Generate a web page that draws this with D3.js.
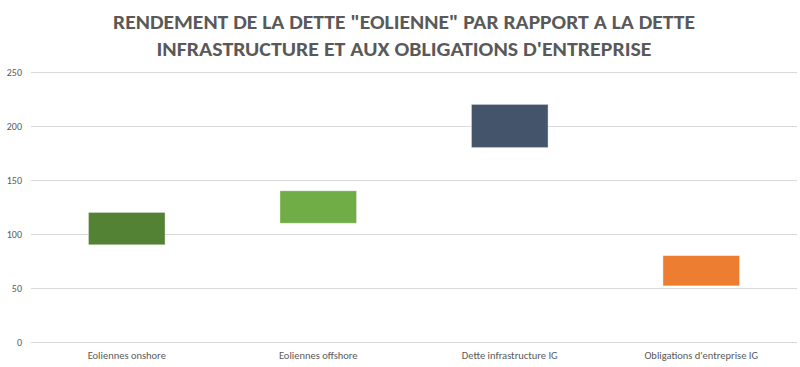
<!DOCTYPE html>
<html>
<head>
<meta charset="utf-8">
<script src="https://d3js.org/d3.v7.min.js"></script>
<style>
  body { margin: 0; background: #fff; }
  svg text { font-family: Carlito, Calibri, Lato, "Open Sans", sans-serif; fill: #595959; }
</style>
</head>
<body>
<div class="chart"></div>
<script>
// chart data
var categories = ["Eoliennes onshore", "Eoliennes offshore", "Dette infrastructure IG", "Obligations d'entreprise IG"];
var lowValues = [90, 110, 180, 52];
var highValues = [120, 140, 220, 80];
var barColors = ["#548235", "#70AD47", "#44546A", "#ED7D31"];
var yTicks = [0, 50, 100, 150, 200, 250];
var titleLines = ["RENDEMENT DE LA DETTE \"EOLIENNE\" PAR RAPPORT A LA DETTE",
                  "INFRASTRUCTURE ET AUX OBLIGATIONS D'ENTREPRISE"];

var W = 800, H = 367;
var margin = { top: 72, right: 3, bottom: 25, left: 31 },
    width = W - margin.left - margin.right,
    height = H - margin.top - margin.bottom;

var data = categories.map(function (c, i) {
    return { name: c, lo: lowValues[i], hi: highValues[i], color: barColors[i] };
});

var svg = d3.select(".chart").append("svg")
    .attr("width", W)
    .attr("height", H);

// title
var titleWidths = [582, 495];
svg.selectAll(".title")
    .data(titleLines)
    .enter().append("text")
    .attr("class", "title")
    .attr("x", W / 2 + 4)
    .attr("y", function (d, i) { return 29 + i * 27; })
    .attr("text-anchor", "middle")
    .attr("textLength", function (d, i) { return titleWidths[i]; })
    .attr("lengthAdjust", "spacingAndGlyphs")
    .style("font-size", "21px")
    .style("font-weight", "bold")
    .text(function (d) { return d; });

var g = svg.append("g")
    .attr("transform", "translate(" + margin.left + "," + margin.top + ")");

var x = d3.scaleBand()
    .domain(categories)
    .range([0, width])
    .paddingInner(0.6)
    .paddingOuter(0.3);

var y = d3.scaleLinear()
    .domain([0, 250])
    .range([height, 0]);

// gridlines
g.append("g")
    .call(d3.axisLeft(y).tickValues(yTicks).tickSize(-width).tickFormat(""))
    .call(function (s) {
        s.select(".domain").remove();
        s.selectAll("line").attr("stroke", "#d9d9d9").attr("stroke-width", 1);
    });

// y labels
g.append("g")
    .call(d3.axisLeft(y).tickValues(yTicks).tickSize(0).tickPadding(9))
    .call(function (s) {
        s.select(".domain").remove();
        s.selectAll("text").style("font-size", "10px").attr("fill", "#595959");
    });

// floating bars
g.selectAll(".bar")
    .data(data)
    .enter().append("rect")
    .attr("class", "bar")
    .attr("x", function (d) { return x(d.name); })
    .attr("width", x.bandwidth())
    .attr("y", function (d) { return y(d.hi); })
    .attr("height", function (d) { return y(d.lo) - y(d.hi); })
    .attr("fill", function (d) { return d.color; })
    .attr("stroke", "#fff")
    .attr("stroke-opacity", 0.5)
    .attr("stroke-width", 0.75);

// x labels
g.append("g")
    .attr("transform", "translate(0," + height + ")")
    .call(d3.axisBottom(x).tickSize(0).tickPadding(10))
    .call(function (s) {
        s.select(".domain").remove();
        s.selectAll("text").style("font-size", "10.5px").attr("fill", "#595959");
    });
</script>
</body>
</html>
